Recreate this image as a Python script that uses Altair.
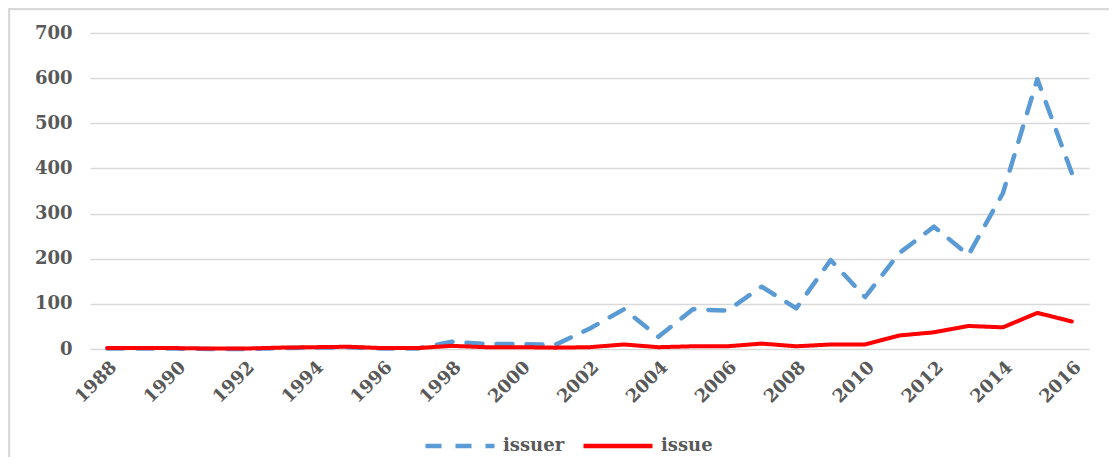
import altair as alt
import pandas as pd

years = [1988, 1989, 1990, 1991, 1992, 1993, 1994, 1995, 1996, 1997,
         1998, 1999, 2000, 2001, 2002, 2003, 2004, 2005, 2006, 2007,
         2008, 2009, 2010, 2011, 2012, 2013, 2014, 2015, 2016]
issuer = [1, 1, 1, 0, 0, 2, 3, 4, 1, 1,
          16, 11, 11, 9, 45, 88, 27, 88, 85, 138,
          90, 197, 115, 213, 271, 208, 345, 598, 390]
issue = [2, 2, 2, 1, 1, 3, 4, 5, 2, 2,
         7, 4, 4, 3, 4, 10, 4, 6, 6, 12,
         6, 10, 10, 30, 37, 51, 48, 80, 61]
series_names = ["issuer", "issue"]
series_colors = ["#5B9BD5", "#FF0000"]
x_tick_labels = [1988, 1990, 1992, 1994, 1996, 1998, 2000, 2002, 2004,
                 2006, 2008, 2010, 2012, 2014, 2016]
y_ticks = [0, 100, 200, 300, 400, 500, 600, 700]

rows = []
for y, a, b in zip(years, issuer, issue):
    rows.append({"year": y, "value": a, "series": "issuer"})
    rows.append({"year": y, "value": b, "series": "issue"})
df = pd.DataFrame(rows)

FONT = "DejaVu Serif"
TXT = "#595959"
W, H = 999, 316

x = alt.X("year:O",
          scale=alt.Scale(type="point", padding=0.5),
          axis=alt.Axis(values=x_tick_labels, title=None, labelAngle=-45,
                        labelAlign="right", labelBaseline="top",
                        labelPadding=9, ticks=False, domain=False, grid=False,
                        labelFont=FONT, labelFontWeight="bold",
                        labelFontSize=18, labelColor=TXT))
y = alt.Y("value:Q",
          scale=alt.Scale(domain=[0, 700], nice=False),
          axis=alt.Axis(values=y_ticks, title=None, ticks=False, domain=False,
                        grid=True, gridColor="#D9D9D9", gridWidth=1.5,
                        labelPadding=18, labelFont=FONT, labelFontWeight="bold",
                        labelFontSize=18, labelColor=TXT))
color = alt.Color("series:N",
                  scale=alt.Scale(domain=series_names, range=series_colors),
                  legend=alt.Legend(title=None, orient="none", direction="horizontal",
                                    legendX=333, legendY=376,
                                    symbolType="stroke", symbolSize=4761,
                                    symbolStrokeWidth=4.5, labelOffset=6,
                                    columnPadding=9,
                                    labelFont=FONT, labelFontWeight="bold",
                                    labelFontSize=18, labelColor=TXT))
dash = alt.StrokeDash("series:N",
                      scale=alt.Scale(domain=series_names, range=[[16, 14], [1, 0]]),
                      legend=None)

base = alt.Chart(df)
blue = base.transform_filter(alt.datum.series == "issuer").mark_line(
    strokeWidth=4.5, strokeCap="round", strokeJoin="round"
).encode(x=x, y=y, color=color, strokeDash=dash)
red = base.transform_filter(alt.datum.series == "issue").mark_line(
    strokeWidth=4, strokeCap="round", strokeJoin="round"
).encode(x=x, y=y, color=color, strokeDash=dash)

frame = alt.Chart(pd.DataFrame({"k": [0]})).mark_rect(
    fill="transparent", stroke="#D9D9D9", strokeWidth=2.5
).encode(x=alt.value(-81), x2=alt.value(1040), y=alt.value(-24), y2=alt.value(460))

chart = alt.layer(frame, blue, red).properties(
    width=W, height=H,
    autosize=alt.AutoSizeParams(type="none"),
    padding={"left": 82, "top": 25, "right": 20, "bottom": 108},
).configure_view(stroke=None)

chart.save("out.html", embed_options={"renderer": "svg", "actions": False})
